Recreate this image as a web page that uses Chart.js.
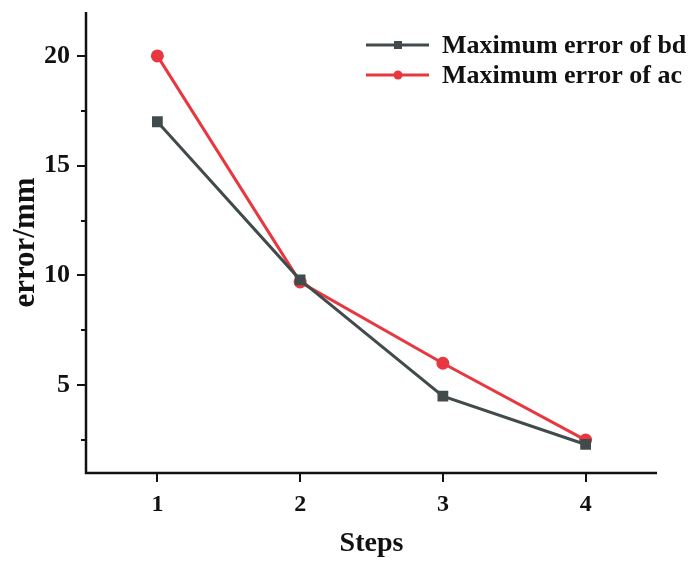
<!DOCTYPE html>
<html>
<head>
<meta charset="utf-8">
<script src="https://cdn.jsdelivr.net/npm/chart.js@4.4.1/dist/chart.umd.min.js"></script>
<style>
  html, body { margin: 0; padding: 0; background: #fff; }
  #box { width: 688px; height: 563px; }
</style>
</head>
<body>
<div id="box"><canvas id="courbe"></canvas></div>
<script>
const etapes = [1, 2, 3, 4];
const erreurBd = [17.0, 9.8, 4.5, 2.3];
const erreurAc = [20.0, 9.7, 6.0, 2.5];
const nomsSeries = ['Maximum error of bd', 'Maximum error of ac'];
const ticksY = [5, 10, 15, 20];
const ticksYMineurs = [2.5, 7.5, 12.5, 17.5];

const gris = '#424b4b';
const rouge = '#e8373f';
const police = '"Liberation Serif", "Times New Roman", serif';

// ticks dessinés à la main (majeurs + mineurs)
const ticksPlugin = {
  id: 'ticksPlugin',
  afterDraw(chart) {
    const ctx = chart.ctx;
    const sx = chart.scales.x, sy = chart.scales.y;
    const a = chart.chartArea;
    ctx.save();
    ctx.strokeStyle = '#111';
    ctx.lineWidth = 2.5;
    ctx.beginPath();
    ctx.moveTo(a.left, a.top);
    ctx.lineTo(a.left, a.bottom);
    ctx.lineTo(a.right, a.bottom);
    ctx.stroke();
    ctx.lineWidth = 2;
    ticksY.forEach(v => {
      const y = Math.round(sy.getPixelForValue(v));
      ctx.beginPath(); ctx.moveTo(a.left - 9, y); ctx.lineTo(a.left, y); ctx.stroke();
    });
    ticksYMineurs.forEach(v => {
      const y = Math.round(sy.getPixelForValue(v));
      ctx.beginPath(); ctx.moveTo(a.left - 5, y); ctx.lineTo(a.left, y); ctx.stroke();
    });
    etapes.forEach(v => {
      const x = Math.round(sx.getPixelForValue(v));
      ctx.beginPath(); ctx.moveTo(x, a.bottom); ctx.lineTo(x, a.bottom + 9); ctx.stroke();
    });
    ctx.restore();
  }
};

// légende à l'intérieur du graphique
const legendePlugin = {
  id: 'legendePlugin',
  afterDraw(chart) {
    const ctx = chart.ctx;
    ctx.save();
    chart.data.datasets.forEach((ds, i) => {
      const y = 45 + i * 30;
      ctx.strokeStyle = ds.borderColor;
      ctx.fillStyle = ds.borderColor;
      ctx.lineWidth = 3;
      ctx.beginPath(); ctx.moveTo(366, y); ctx.lineTo(429, y); ctx.stroke();
      if (ds.pointStyle === 'rect') {
        ctx.fillRect(394, y - 4, 8, 8);
      } else {
        ctx.beginPath(); ctx.arc(398, y, 4.5, 0, Math.PI * 2); ctx.fill();
      }
      ctx.fillStyle = '#111';
      ctx.font = 'bold 26px ' + police;
      ctx.textBaseline = 'middle';
      ctx.fillText(ds.label, 442, y + 1);
    });
    ctx.restore();
  }
};

new Chart(document.getElementById('courbe'), {
  type: 'line',
  data: {
    datasets: [
      {
        label: nomsSeries[0],
        data: etapes.map((x, i) => ({ x: x, y: erreurBd[i] })),
        borderColor: gris,
        backgroundColor: gris,
        borderWidth: 3,
        pointStyle: 'rect',
        pointRadius: 5.5,
      },
      {
        label: nomsSeries[1],
        data: etapes.map((x, i) => ({ x: x, y: erreurAc[i] })),
        borderColor: rouge,
        backgroundColor: rouge,
        borderWidth: 3,
        pointStyle: 'circle',
        pointRadius: 5,
      },
    ],
  },
  options: {
    responsive: true,
    maintainAspectRatio: false,
    animation: false,
    layout: { autoPadding: false, padding: { top: 12, right: 31, left: 0, bottom: 0 } },
    plugins: { legend: { display: false }, tooltip: { enabled: false } },
    scales: {
      x: {
        type: 'linear',
        min: 0.5,
        max: 4.5,
        afterFit(s) { s.height = 90; s.paddingLeft = 0; s.paddingRight = 0; },
        afterBuildTicks(s) { s.ticks = etapes.map(v => ({ value: v })); },
        grid: { display: false },
        border: { display: false },
        ticks: { color: '#111', font: { family: police, size: 24, weight: 'bold' }, padding: 9 },
        title: {
          display: true,
          text: 'Steps',
          color: '#111',
          font: { family: police, size: 28, weight: 'bold' },
          padding: { top: 0, bottom: 2 },
        },
      },
      y: {
        type: 'linear',
        min: 1,
        max: 22,
        afterFit(s) { s.width = 86; s.paddingTop = 0; s.paddingBottom = 0; },
        afterBuildTicks(s) { s.ticks = ticksY.map(v => ({ value: v })); },
        grid: { display: false },
        border: { display: false },
        ticks: { color: '#111', font: { family: police, size: 26, weight: 'bold' }, padding: 8 },
        title: {
          display: true,
          text: 'error/mm',
          color: '#111',
          font: { family: police, size: 31, weight: 'bold' },
          padding: { top: 7, bottom: 0 },
        },
      },
    },
  },
  plugins: [ticksPlugin, legendePlugin],
});
</script>
</body>
</html>
